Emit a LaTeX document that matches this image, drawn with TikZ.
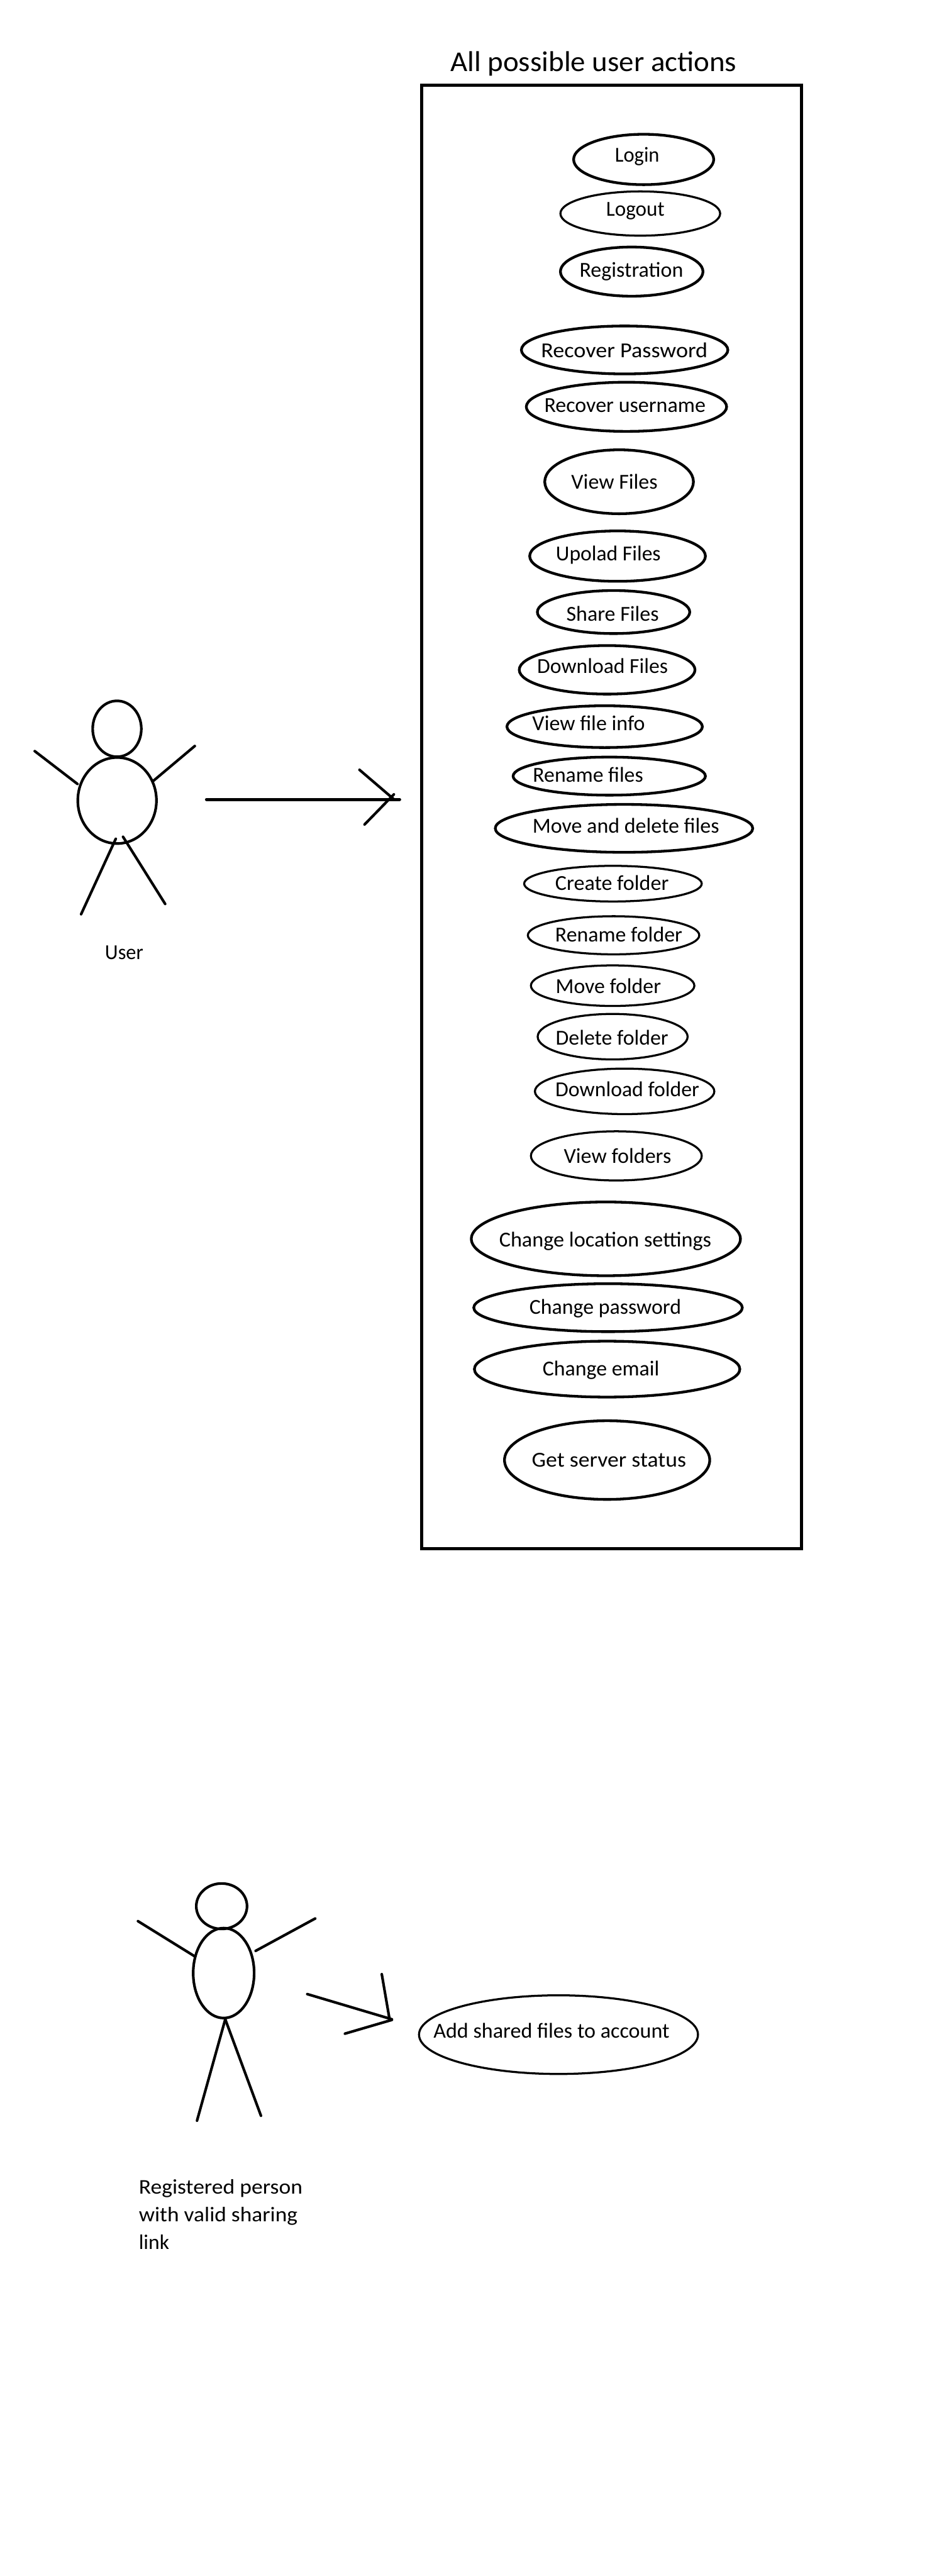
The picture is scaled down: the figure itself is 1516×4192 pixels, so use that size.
\documentclass[tikz,border=0pt]{standalone}
\usepackage{fontspec}
\usepackage{graphicx}
\setmainfont{Carlito}
\usetikzlibrary{shapes.geometric}
\tikzset{
  ucbase/.style={ellipse,draw=black,fill=none,inner sep=0pt},
  ucheavy/.style={ucbase,line width=3.3pt},
  uclight/.style={ucbase,line width=2.5pt},
  uctext/.style={inner sep=0pt,text height=18pt,text depth=5pt,yshift=-2pt,font=\fontsize{26}{30}\selectfont},
  limb/.style={draw=black,line width=3.2pt,line cap=round},
  bodypart/.style={ellipse,draw=black,inner sep=0pt,line width=3.2pt},
  frame/.style={draw=black,line width=3.7pt,fill=none},
}
\newcommand{\uc}[6]{% name, style, cx, cy, rx, ry
  \node[#2,minimum width={#5*1.5pt},minimum height={#6*1.5pt}] (#1) at (#3,#4) {};}
\newcommand{\ut}[5]{% name, tx, ty, width, text
  \node[uctext] (#1T) at (#2,#3) {\resizebox{#4bp}{\height}{#5}};}
\begin{document}
\begin{tikzpicture}[x=0.75pt,y=-0.75pt]
\useasboundingbox (0,0) rectangle (1516,4192);
\fill[white] (0,0) rectangle (1516,4192);

\node[inner sep=0pt,text height=33pt,text depth=9pt,font=\fontsize{35}{40}\selectfont] (title) at (966,100) {\resizebox{348bp}{\height}{All possible user actions}};
\draw[frame] (686.5,138.5) rectangle (1304,2520);

\uc{login}{ucheavy}{1047.5}{259.5}{114}{41}  \ut{login}{1037}{252}{54}{Login}
\uc{logout}{uclight}{1042}{347.5}{130}{36}   \ut{logout}{1034}{340}{71}{Logout}
\uc{reg}{ucheavy}{1028}{442}{116}{40}        \ut{reg}{1027.5}{440}{126}{Registration}
\uc{recpw}{ucheavy}{1016.5}{569.5}{168}{39}  \ut{recpw}{1016}{570}{202.5}{Recover Password}
\uc{recun}{ucheavy}{1019.5}{662}{163}{40}    \ut{recun}{1017}{660}{196}{Recover username}
\uc{viewf}{ucheavy}{1007.5}{784}{121}{52}    \ut{viewf}{1000}{784}{105}{View Files}
\uc{upl}{ucheavy}{1005}{905}{143}{41}        \ut{upl}{990}{901}{127.5}{Upolad Files}
\uc{share}{ucheavy}{998.5}{996}{124}{35}     \ut{share}{997}{999}{112.5}{Share Files}
\uc{down}{ucheavy}{988}{1090}{143}{39.5}     \ut{down}{980.6}{1084}{159}{Download Files}
\uc{info}{ucheavy}{984}{1182.5}{159}{34}     \ut{info}{958}{1177}{137}{View file info}
\uc{renf}{ucheavy}{991.5}{1263}{156.5}{31}   \ut{renf}{957}{1261}{134}{Rename files}
\uc{mvdel}{ucheavy}{1015.5}{1348}{209.5}{39} \ut{mvdel}{1018.6}{1344}{227}{Move and delete files}
\uc{crd}{uclight}{997.5}{1438}{144.5}{29}    \ut{crd}{996}{1437}{138}{Create folder}
\uc{rnd}{uclight}{998.5}{1522}{139.5}{31}    \ut{rnd}{1007}{1521}{154.5}{Rename folder}
\uc{mvd}{uclight}{997}{1604}{133}{33}        \ut{mvd}{990}{1605}{128}{Move folder}
\uc{dld}{uclight}{997}{1687}{122}{37}        \ut{dld}{996}{1689}{137}{Delete folder}
\uc{dwd}{uclight}{1016.5}{1776}{146}{37}     \ut{dwd}{1021}{1773}{175}{Download folder}
\uc{vwd}{uclight}{1003}{1881}{139}{40}       \ut{vwd}{1005}{1881}{130.5}{View folders}
\uc{loc}{ucheavy}{986}{2016}{219}{60}        \ut{loc}{985}{2018}{258}{Change location settings}
\uc{chpw}{ucheavy}{989.5}{2128}{218.5}{39}   \ut{chpw}{985}{2127}{184.5}{Change password}
\uc{chem}{ucheavy}{988}{2228}{216}{45.5}     \ut{chem}{978}{2227}{142}{Change email}
\uc{srv}{ucheavy}{988}{2376}{167}{64}        \ut{srv}{991}{2376}{187.5}{Get server status}

% first actor
\node[bodypart,minimum width={79.2*0.75pt},minimum height={91*0.75pt}] (headA) at (190.4,1186) {};
\node[bodypart,minimum width={128*0.75pt},minimum height={140*0.75pt}] (bodyA) at (190.6,1302.7) {};
\coordinate (aL1) at (56.5,1222.3); \coordinate (aL2) at (126,1275.7);
\coordinate (aR1) at (317,1214);    \coordinate (aR2) at (248.4,1271.7);
\coordinate (lL1) at (188.4,1365);  \coordinate (lL2) at (132,1487.7);
\coordinate (lR1) at (200.2,1361.7);\coordinate (lR2) at (268.8,1471);
\draw[limb] (aL1) -- (aL2);
\draw[limb] (aR1) -- (aR2);
\draw[limb] (lL1) -- (lL2);
\draw[limb] (lR1) -- (lR2);
\node[uctext] (userT) at (202,1550) {\resizebox{46.5bp}{\height}{User}};

\coordinate (arA1) at (336,1301);   \coordinate (arA2) at (650.4,1301);
\coordinate (hdA1) at (585,1252.7); \coordinate (hdA2) at (640.2,1300);
\coordinate (hdA3) at (593.3,1341.7); \coordinate (hdA4) at (641,1292.7);
\draw[limb,line width=3.6pt] (arA1) -- (arA2);
\draw[limb] (hdA1) -- (hdA2);
\draw[limb] (hdA3) -- (hdA4);

% second actor
\node[bodypart,minimum width={82.6*0.75pt},minimum height={74*0.75pt}] (headB) at (360.7,3102) {};
\node[bodypart,minimum width={99.2*0.75pt},minimum height={146.4*0.75pt}] (bodyB) at (364,3210.8) {};
\coordinate (bL1) at (224.5,3126.3); \coordinate (bL2) at (317.6,3184);
\coordinate (bR1) at (513,3122);     \coordinate (bR2) at (416,3174.7);
\coordinate (mL1) at (366.6,3286);   \coordinate (mL2) at (320.6,3451);
\coordinate (mR2) at (424.7,3443);
\draw[limb] (bL1) -- (bL2);
\draw[limb] (bR1) -- (bR2);
\draw[limb] (mL1) -- (mL2);
\draw[limb] (mL1) -- (mR2);

\coordinate (arB1) at (500,3245);   \coordinate (arB2) at (637.8,3286);
\coordinate (hdB1) at (621.3,3212.6); \coordinate (hdB2) at (633.6,3284);
\coordinate (hdB3) at (561.3,3309.4); \coordinate (hdB4) at (637.8,3287);
\draw[limb] (arB1) -- (arB2);
\draw[limb] (hdB1) -- (hdB2);
\draw[limb] (hdB3) -- (hdB4);

\uc{addsh}{uclight}{908.9}{3311}{227}{64}  \ut{addsh}{897.5}{3305}{287}{Add shared files to account}

\node[inner sep=0pt,anchor=west,align=left,font=\fontsize{25.5}{33.75}\selectfont] (regT) at (225.7,3603)
  {\resizebox{199bp}{\height}{Registered person}\\\resizebox{193bp}{\height}{with valid sharing}\\\resizebox{37bp}{\height}{link}};
\end{tikzpicture}
\end{document}
